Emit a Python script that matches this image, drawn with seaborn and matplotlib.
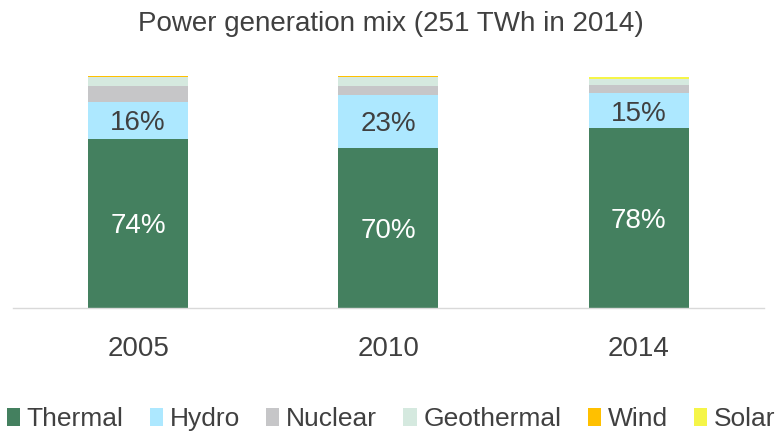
import matplotlib
matplotlib.use("Agg")
import matplotlib.pyplot as plt
import matplotlib.patches as mpatches
import pandas as pd
import seaborn as sns

years = ["2005", "2010", "2014"]
sources = ["Thermal", "Hydro", "Nuclear", "Geothermal", "Wind", "Solar"]
thermal = [73, 69, 77.5]
hydro = [16, 23, 15]
nuclear = [6.5, 3.5, 3.5]
geothermal = [4, 4, 2.5]
wind = [0.6, 0.6, 0.2]
solar = [0.1, 0.1, 0.9]
thermal_labels = ["74%", "70%", "78%"]
hydro_labels = ["16%", "23%", "15%"]

colors = ["#44805F", "#ADE8FF", "#C6C6C8", "#D5E9DF", "#FFC000", "#F5F548"]

data = pd.DataFrame({"year": years, "Thermal": thermal, "Hydro": hydro,
                     "Nuclear": nuclear, "Geothermal": geothermal,
                     "Wind": wind, "Solar": solar})

sns.set_theme(style="white")
plt.rcParams["font.family"] = ["Liberation Sans", "DejaVu Sans"]
text_color = "#404040"

fig = plt.figure(figsize=(7.82, 4.33), dpi=100)
ax = fig.add_axes([0.0166, 0.2887, 0.960, 0.5497])

bottom = [0.0] * len(years)
for src, col in zip(sources, colors):
    sns.barplot(data=data, x="year", y=src, color=col, width=0.4,
                bottom=bottom, ax=ax, saturation=1, linewidth=0)
    bottom = [b + v for b, v in zip(bottom, data[src])]

for i in range(len(years)):
    ax.text(i, thermal[i] / 2, thermal_labels[i], ha="center",
            va="center_baseline", color="white", fontsize=20)
    ax.text(i, thermal[i] + hydro[i] / 2, hydro_labels[i], ha="center",
            va="center_baseline", color=text_color, fontsize=20)

ax.set_xlim(-0.5, 2.5)
ax.set_ylim(0, 102.6)
ax.set_xlabel("")
ax.set_ylabel("")
ax.set_yticks([])
ax.tick_params(axis="x", labelsize=20, colors=text_color, pad=20, length=0)
for s in ["top", "left", "right"]:
    ax.spines[s].set_visible(False)
ax.spines["bottom"].set_color("#D9D9D9")
ax.spines["bottom"].set_linewidth(1)

fig.text(0.5, 0.945, "Power generation mix (251 TWh in 2014)", ha="center",
         va="center", fontsize=20, color=text_color)

handles = [mpatches.Patch(facecolor=c, edgecolor="none") for c in colors]
fig.legend(handles, sources, loc="center", bbox_to_anchor=(0.5, 0.032),
           ncol=6, frameon=False, fontsize=19, handletextpad=0.25,
           handlelength=0.5, handleheight=0.7, columnspacing=1.0,
           labelcolor=text_color, borderaxespad=0, borderpad=0)

fig.savefig("out.png", dpi=100)
